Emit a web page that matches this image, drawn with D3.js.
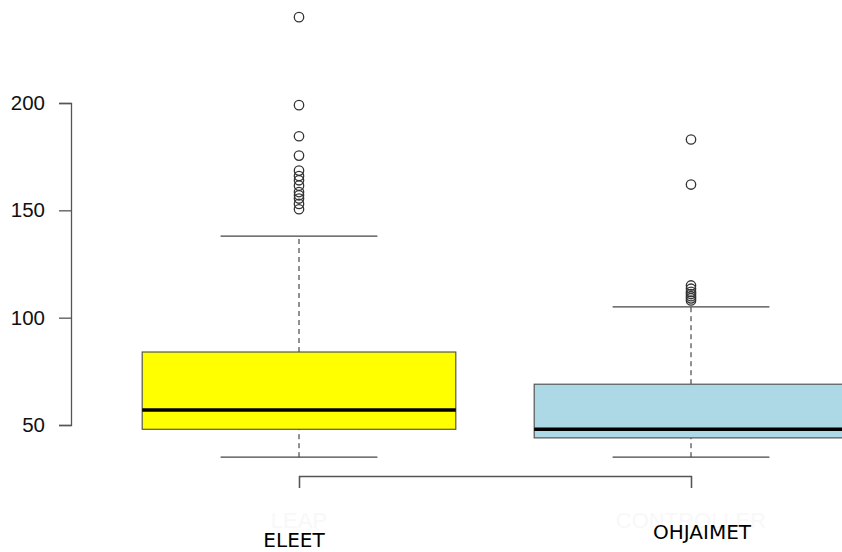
<!DOCTYPE html>
<html>
<head>
<meta charset="utf-8">
<script src="https://cdn.jsdelivr.net/npm/d3@7"></script>
<style>
  body { margin: 0; background: #fff; }
  svg { display: block; }
</style>
</head>
<body>
<script>
// group names, R-style box stats and outliers
var groups = ["LEAP", "CONTROLLER"];
var labels = ["ELEET", "OHJAIMET"];
var lowWhisker = [35, 35];
var q1 = [48, 44];
var median = [57, 48];
var q3 = [84, 69];
var highWhisker = [138, 105];
var outliers = [
    [240, 199, 184.5, 175.5, 168.5, 166, 164, 161.5, 158.5, 157, 155.5, 153, 150.5],
    [183, 162, 115, 113.5, 112, 111, 110, 109, 108]
];
var fills = ["#ffff00", "#add8e6"];
var yTicks = [50, 100, 150, 200];

var width = 842, height = 552;

var svg = d3.select("body")
    .append("svg")
    .attr("width", width)
    .attr("height", height);

var x = d3.scaleLinear()
    .domain([1, 2])
    .range([299, 691]);

var y = d3.scaleLinear()
    .domain([50, 200])
    .range([425, 103]);

var boxHalf = (x(2) - x(1)) * 0.4,
    capHalf = boxHalf / 2;

var data = groups.map(function (g, i) {
    return {
        name: g, label: labels[i], pos: i + 1,
        lo: lowWhisker[i], q1: q1[i], med: median[i], q3: q3[i], hi: highWhisker[i],
        out: outliers[i], fill: fills[i]
    };
});

// y axis
svg.append("g")
    .attr("class", "y-axis")
    .attr("transform", "translate(71,0)")
    .call(d3.axisLeft(y)
        .tickValues(yTicks)
        .tickSize(12)
        .tickSizeOuter(12)
        .tickPadding(14))
    .call(function (g) {
        g.selectAll("path, line").attr("stroke", "#555").attr("stroke-width", 1.3);
        g.selectAll("text")
            .style("font-family", "'Liberation Sans', Arial, sans-serif")
            .style("font-size", "20.5px")
            .attr("fill", "#111");
    });

// x axis bracket
svg.append("g")
    .attr("class", "x-axis")
    .attr("transform", "translate(0,476)")
    .call(d3.axisBottom(x)
        .tickValues([1, 2])
        .tickSize(12)
        .tickSizeOuter(12)
        .tickFormat(""))
    .call(function (g) {
        g.selectAll("path, line").attr("stroke", "#555").attr("stroke-width", 1.3);
    });

var box = svg.append("g").attr("class", "boxes")
    .selectAll("g")
    .data(data)
    .enter().append("g");

// dashed whiskers
box.append("line")
    .attr("x1", function (d) { return x(d.pos); })
    .attr("x2", function (d) { return x(d.pos); })
    .attr("y1", function (d) { return y(d.lo); })
    .attr("y2", function (d) { return y(d.q1); })
    .attr("stroke", "#222")
    .attr("stroke-dasharray", "5,4");
box.append("line")
    .attr("x1", function (d) { return x(d.pos); })
    .attr("x2", function (d) { return x(d.pos); })
    .attr("y1", function (d) { return y(d.q3); })
    .attr("y2", function (d) { return y(d.hi); })
    .attr("stroke", "#222")
    .attr("stroke-dasharray", "5,4");

// whisker caps
["lo", "hi"].forEach(function (k) {
    box.append("line")
        .attr("x1", function (d) { return x(d.pos) - capHalf; })
        .attr("x2", function (d) { return x(d.pos) + capHalf; })
        .attr("y1", function (d) { return y(d[k]); })
        .attr("y2", function (d) { return y(d[k]); })
        .attr("stroke", "#444")
        .attr("stroke-width", 1.2);
});

// boxes
box.append("rect")
    .attr("x", function (d) { return x(d.pos) - boxHalf; })
    .attr("y", function (d) { return y(d.q3); })
    .attr("width", boxHalf * 2)
    .attr("height", function (d) { return y(d.q1) - y(d.q3); })
    .attr("fill", function (d) { return d.fill; })
    .attr("stroke", "#555")
    .attr("stroke-width", 1.2);

// medians
box.append("line")
    .attr("x1", function (d) { return x(d.pos) - boxHalf; })
    .attr("x2", function (d) { return x(d.pos) + boxHalf; })
    .attr("y1", function (d) { return y(d.med); })
    .attr("y2", function (d) { return y(d.med); })
    .attr("stroke", "#000")
    .attr("stroke-width", 3.5);

// outliers
box.selectAll("circle")
    .data(function (d) { return d.out.map(function (v) { return { pos: d.pos, v: v }; }); })
    .enter().append("circle")
    .attr("cx", function (d) { return x(d.pos); })
    .attr("cy", function (d) { return y(d.v); })
    .attr("r", 4.7)
    .attr("fill", "none")
    .attr("stroke", "#333")
    .attr("stroke-width", 1.3);

// faint original group names
svg.append("g")
    .selectAll("text")
    .data(data)
    .enter().append("text")
    .attr("x", function (d) { return x(d.pos); })
    .attr("y", 528)
    .attr("text-anchor", "middle")
    .style("font-family", "'Liberation Sans', Arial, sans-serif")
    .style("font-size", "22px")
    .attr("fill", "#f8f8f8")
    .text(function (d) { return d.name; });

// translated labels on top
var labelDx = [-5, 11], labelY = [547, 539];
svg.append("g")
    .selectAll("text")
    .data(data)
    .enter().append("text")
    .attr("x", function (d, i) { return x(d.pos) + labelDx[i]; })
    .attr("y", function (d, i) { return labelY[i]; })
    .attr("text-anchor", "middle")
    .style("font-family", "'DejaVu Sans', sans-serif")
    .style("font-size", "20px")
    .attr("fill", "#000")
    .text(function (d) { return d.label; });
</script>
</body>
</html>
